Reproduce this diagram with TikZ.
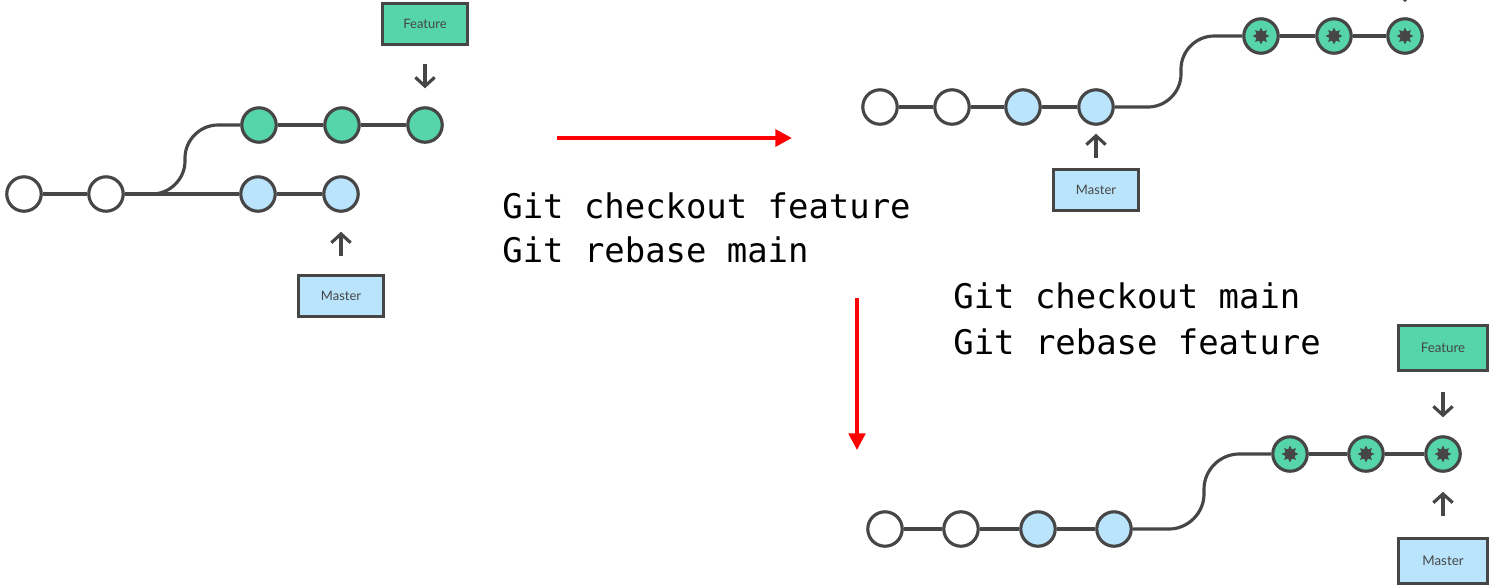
\documentclass[tikz,border=0pt]{standalone}
\usepackage{fontspec}
\setmainfont{Lato}
\setmonofont{DejaVu Sans Mono}
\usetikzlibrary{arrows.meta,shapes.geometric}

\definecolor{ink}{HTML}{464646}
\definecolor{fgreen}{HTML}{55D5A9}
\definecolor{mblue}{HTML}{B9E4FC}

\tikzset{
  link/.style={draw=ink, line width=1.8pt},
  commit/.style={circle, draw=ink, line width=1.8pt, minimum size=19.6pt, inner sep=0pt},
  base/.style={commit, fill=white},
  mast/.style={commit, fill=mblue},
  feat/.style={commit, fill=fgreen},
  starmark/.style={star, star points=8, star point ratio=1.7, fill=ink, draw=none,
                   minimum size=9.5pt, inner sep=0pt},
  moved/.style={feat, label={[starmark]center:}},
  tag/.style={rectangle, draw=ink, line width=1.8pt, minimum width=48.2pt,
              minimum height=23.2pt, inner sep=0pt, text=ink,
              font=\fontsize{7.4}{8}\selectfont},
  bigtag/.style={tag, minimum width=50.5pt, minimum height=25.5pt,
                 font=\fontsize{7.6}{8}\selectfont},
  ptr/.style={draw=ink, line width=1.8pt, -{Straight Barb[length=5pt,width=11pt]}},
  redarrow/.style={draw=red, line width=2.3pt, -{Triangle[length=9.5pt,width=9.5pt]}},
  cmd/.style={anchor=base west, inner sep=0pt, font=\ttfamily\fontsize{19.3}{25}\selectfont}
}

\begin{document}
\begin{tikzpicture}[x=0.02cm, y=-0.02cm]
\useasboundingbox (0,0) rectangle (1490,586);

% ---- before: two diverging branches ----
\node[base] (a1) at (24,194) {};
\node[base] (a2) at (106,194) {};
\node[mast] (am1) at (258,194) {};
\node[mast] (am2) at (341,194) {};
\node[feat] (af1) at (259,125) {};
\node[feat] (af2) at (342,125) {};
\node[feat] (af3) at (425,125) {};
\draw[link] (a1) -- (a2);
\draw[link] (a2) -- (am1);
\draw[link] (am1) -- (am2);
\draw[link] (a2.east) -- (152,194) .. controls (170,194) and (185,179) .. (185,161)
  -- (185,158) .. controls (185,140) and (200,125) .. (218,125) -- (af1.west);
\draw[link] (af1) -- (af2);
\draw[link] (af2) -- (af3);
\node[tag, fill=fgreen] (afeat) at (425,24) {Feature};
\node[tag, fill=mblue] (amast) at (341,296) {Master};
\draw[ptr, shorten <=10.2pt, shorten >=10.2pt] (afeat) -- (af3);
\draw[ptr, shorten <=10.2pt, shorten >=10.8pt] (amast) -- (am2);

% ---- commands and transitions ----
\coordinate (h0) at (557,138);
\coordinate (h1) at (792,138);
\draw[redarrow] (h0) -- (h1);
\node[cmd] (c1) at (502,218) {Git checkout feature};
\node[cmd] (c2) at (502,262) {Git rebase main};

\coordinate (v0) at (857,298);
\coordinate (v1) at (857,450);
\draw[redarrow, line width=1.9pt] (v0) -- (v1);
\node[cmd] (c3) at (953,308) {Git checkout main};
\node[cmd] (c4) at (953,354) {Git rebase feature};

% ---- after rebasing feature onto master ----
\node[base] (b1) at (880,107) {};
\node[base] (b2) at (952,107) {};
\node[mast] (bm1) at (1023,107) {};
\node[mast] (bm2) at (1096,107) {};
\node[moved] (bf1) at (1261,36) {};
\node[moved] (bf2) at (1334,36) {};
\node[moved] (bf3) at (1405,36) {};
\draw[link] (b1) -- (b2);
\draw[link] (b2) -- (bm1);
\draw[link] (bm1) -- (bm2);
\draw[link] (bm2.east) -- (1148,107) .. controls (1166,107) and (1181,92) .. (1181,74)
  -- (1181,69) .. controls (1181,51) and (1196,36) .. (1214,36) -- (bf1.west);
\draw[link] (bf1) -- (bf2);
\draw[link] (bf2) -- (bf3);
\node[tag, fill=mblue] (bmast) at (1096,190) {Master};
\draw[ptr, shorten <=5.7pt, shorten >=4.5pt] (bmast) -- (bm2);
\begin{scope}
  \clip (0,0) rectangle (1490,586);
  \coordinate (bt0) at (1405,-40);
  \coordinate (bt1) at (1405,2);
  \draw[ptr] (bt0) -- (bt1);
\end{scope}

% ---- after fast-forwarding master ----
\node[base] (d1) at (885,529) {};
\node[base] (d2) at (961,529) {};
\node[mast] (dm1) at (1038,529) {};
\node[mast] (dm2) at (1114,529) {};
\node[moved] (df1) at (1290,454) {};
\node[moved] (df2) at (1366,454) {};
\node[moved] (df3) at (1443,454) {};
\draw[link] (d1) -- (d2);
\draw[link] (d2) -- (dm1);
\draw[link] (dm1) -- (dm2);
\draw[link] (dm2.east) -- (1169,529) .. controls (1188,529) and (1204,513) .. (1204,494)
  -- (1204,489) .. controls (1204,470) and (1220,454) .. (1239,454) -- (df1.west);
\draw[link] (df1) -- (df2);
\draw[link] (df2) -- (df3);
\node[bigtag, fill=fgreen] (dfeat) at (1443,348) {Feature};
\node[bigtag, fill=mblue] (dmast) at (1443,561) {Master};
\draw[ptr, shorten <=11.3pt, shorten >=10.2pt] (dfeat) -- (df3);
\draw[ptr, shorten <=11.9pt, shorten >=10.8pt] (dmast) -- (df3);
\end{tikzpicture}
\end{document}
